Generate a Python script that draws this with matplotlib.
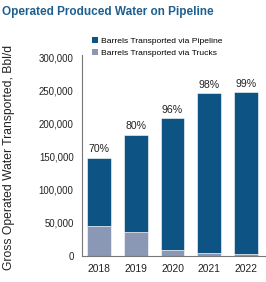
import matplotlib
matplotlib.use("Agg")
import matplotlib.pyplot as plt
from matplotlib.patches import Patch
from matplotlib.ticker import FuncFormatter

years = ["2018", "2019", "2020", "2021", "2022"]
trucks = [45000, 37000, 8500, 5000, 2500]
pipeline = [104000, 147000, 200000, 241500, 245500]
pct_labels = ["70%", "80%", "96%", "98%", "99%"]
yticks = [0, 50000, 100000, 150000, 200000, 250000, 300000]

c_pipe = "#0d5383"
c_truck = "#8a97b5"
c_title = "#1f5f8f"

plt.rcParams["font.family"] = ["Liberation Sans", "DejaVu Sans"]

fig = plt.figure(figsize=(2.66, 2.82), dpi=100)
ax = fig.add_axes([82/266, 26/282, (266-82)/266, (256-55)/282])

x = list(range(len(years)))
ax.bar(x, trucks, width=0.64, color=c_truck, edgecolor="white", linewidth=0.4)
ax.bar(x, pipeline, width=0.64, bottom=trucks, color=c_pipe, edgecolor="white", linewidth=0.4)

for i, lab in enumerate(pct_labels):
    ax.text(i, trucks[i] + pipeline[i] + 5000, lab, ha="center", va="bottom",
            fontsize=7.6, color="#222222")

ax.set_xlim(-0.47, 4.55)
ax.set_ylim(0, 304500)
ax.set_xticks(x)
ax.set_xticklabels(years)
ax.set_yticks(yticks)
ax.yaxis.set_major_formatter(FuncFormatter(lambda v, p: f"{int(v):,}"))
ax.tick_params(axis="both", length=0, labelsize=7.4, colors="#222222")
ax.tick_params(axis="x", pad=6)
ax.tick_params(axis="y", pad=6, labelsize=6.9)
for s in ["top", "right"]:
    ax.spines[s].set_visible(False)
for s in ["left", "bottom"]:
    ax.spines[s].set_color("#777777")
    ax.spines[s].set_linewidth(0.8)

ax.set_ylabel("Gross Operated Water Transported, Bbl/d", fontsize=8.7, color="#222222")
ax.yaxis.set_label_coords(-0.364, 0.49)

fig.text(2/266, 1 - 12/282, "Operated Produced Water on Pipeline", fontsize=8.5,
         fontweight="bold", color=c_title, ha="left", va="center")

handles = [Patch(facecolor=c_pipe, edgecolor="none"), Patch(facecolor=c_truck, edgecolor="none")]
fig.legend(handles, ["Barrels Transported via Pipeline", "Barrels Transported via Trucks"],
           loc="upper left", bbox_to_anchor=(92/266, 1 - 37/282), frameon=False,
           fontsize=6.1, handlelength=0.75, handleheight=0.75, handletextpad=0.3,
           labelspacing=0.45, borderaxespad=0, borderpad=0)

fig.savefig("out.png", dpi=100)
